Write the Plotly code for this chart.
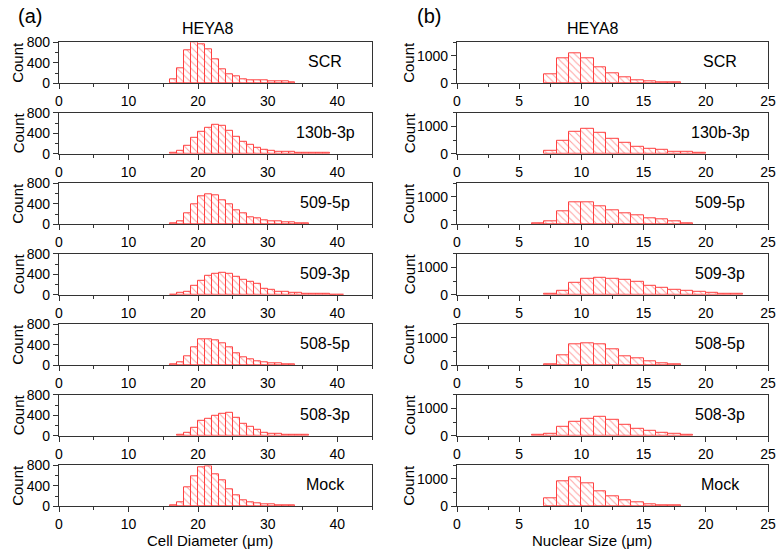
import plotly.graph_objects as go

W, H = 778, 554

samples = ["SCR", "130b-3p", "509-5p", "509-3p", "508-5p", "508-3p", "Mock"]

# Cell diameter histograms (bin width 1 um), first bin start per sample
cell_start = [16, 16, 16, 16, 16, 17, 16]
cell_scr = [78, 300, 636, 792, 766, 662, 468, 280, 182, 130, 78, 58, 65, 58, 39, 32, 32, 20]
cell_130b3p = [13, 53, 160, 313, 433, 513, 560, 547, 440, 333, 233, 180, 113, 80, 67, 47, 40, 33, 27, 27, 20, 20, 13]
cell_5095p = [13, 66, 210, 387, 538, 590, 564, 472, 400, 275, 210, 144, 111, 79, 66, 52, 39, 39, 26, 20]
cell_5093p = [7, 33, 58, 182, 280, 364, 409, 435, 409, 357, 299, 260, 214, 123, 97, 65, 52, 39, 32, 19, 19, 13, 13, 7, 7]
cell_5085p = [19, 58, 182, 357, 513, 513, 494, 429, 357, 227, 162, 117, 84, 65, 39, 32, 19, 13]
cell_5083p = [19, 51, 147, 288, 340, 391, 429, 455, 352, 243, 173, 109, 64, 45, 32, 19, 19, 13, 13]
cell_mock = [13, 79, 364, 583, 762, 781, 629, 517, 331, 219, 119, 86, 60, 46, 33, 26, 20, 13]
cell_counts = [cell_scr, cell_130b3p, cell_5095p, cell_5093p, cell_5085p, cell_5083p, cell_mock]

# Nuclear size histograms (bin width 1 um)
nuc_start = [7, 7, 6, 7, 7, 6, 7]
nuc_scr = [321, 914, 1099, 914, 568, 383, 210, 123, 74, 49, 25]
nuc_130b3p = [120, 482, 807, 904, 759, 566, 386, 253, 181, 133, 84, 60, 36]
nuc_5095p = [24, 118, 471, 812, 812, 671, 529, 400, 318, 212, 165, 106, 47]
nuc_5093p = [35, 129, 424, 600, 624, 600, 541, 494, 329, 247, 200, 129, 94, 59, 35, 24]
nuc_5085p = [49, 370, 765, 815, 753, 568, 346, 247, 136, 74, 25]
nuc_5083p = [37, 61, 329, 500, 610, 683, 573, 390, 268, 195, 110, 73, 49]
nuc_mock = [300, 920, 1050, 830, 560, 380, 220, 130, 80, 50, 25]
nuc_counts = [nuc_scr, nuc_130b3p, nuc_5095p, nuc_5093p, nuc_5085p, nuc_5083p, nuc_mock]

cell_xticks = [0, 10, 20, 30, 40]
cell_yticks = [0, 400, 800]
nuc_xticks = [0, 5, 10, 15, 20, 25]
nuc_yticks = [0, 1000]

FONT = "Liberation Sans, Arial, sans-serif"
RED = "#ff4040"
AX = "#333333"

fig = go.Figure()


def xp(px):
    return px / W


def yp(py):
    return 1 - py / H


panel_top0 = 42.3
panel_step = 70.5
panel_h = 41.0
left_x = (59, 372)
right_x = (457, 768)

annotations = []
layout_axes = {}
n = 0
for col in range(2):
    for k in range(7):
        n += 1
        xa = "x" if n == 1 else f"x{n}"
        ya = "y" if n == 1 else f"y{n}"
        xkey = "xaxis" if n == 1 else f"xaxis{n}"
        ykey = "yaxis" if n == 1 else f"yaxis{n}"
        top = panel_top0 + panel_step * k
        bot = top + panel_h
        if col == 0:
            start, counts = cell_start[k], cell_counts[k]
            xr, yr = [0, 45], [0, 800]
            xt, yt = cell_xticks, cell_yticks
            xminor, yminor = 5, 200
            xpx = left_x
        else:
            start, counts = nuc_start[k], nuc_counts[k]
            xr, yr = [0, 25], [0, 1500]
            xt, yt = nuc_xticks, nuc_yticks
            xminor, yminor = 2.5, 500
            xpx = right_x
        centers = [start + i + 0.5 for i in range(len(counts))]
        fig.add_trace(go.Bar(
            x=centers, y=counts, width=1, xaxis=xa, yaxis=ya,
            marker=dict(color="white",
                        line=dict(color=RED, width=1),
                        pattern=dict(shape="\\", fgcolor=RED, bgcolor="white",
                                     size=5, solidity=0.2)),
            showlegend=False, hoverinfo="x+y"))
        layout_axes[xkey] = dict(
            domain=[xp(xpx[0]), xp(xpx[1])], anchor=ya, range=xr,
            tickvals=xt, ticks="outside", ticklen=5, tickwidth=1, tickcolor=AX,
            minor=dict(dtick=xminor, tick0=0, ticks="outside", ticklen=3, tickcolor=AX),
            showline=True, linecolor=AX, linewidth=1.2, mirror=True,
            showgrid=False, zeroline=False, automargin=False,
            tickfont=dict(size=14, color="black", family=FONT))
        layout_axes[ykey] = dict(
            domain=[yp(bot), yp(top)], anchor=xa, range=yr,
            tickvals=yt, ticks="outside", ticklen=5, tickwidth=1, tickcolor=AX,
            minor=dict(dtick=yminor, tick0=0, ticks="outside", ticklen=3, tickcolor=AX),
            showline=True, linecolor=AX, linewidth=1.2, mirror=True,
            showgrid=False, zeroline=False, automargin=False,
            tickfont=dict(size=14, color="black", family=FONT))
        mid = (top + bot) / 2
        # sample label
        annotations.append(dict(
            x=xp(xpx[1] - 47 if col == 0 else xpx[1] - 48), y=yp(mid - 1),
            xref="paper", yref="paper", text=samples[k], showarrow=False,
            xanchor="center", yanchor="middle",
            font=dict(size=16, color="black", family=FONT)))
        # Count label
        annotations.append(dict(
            x=xp(18 if col == 0 else 409), y=yp(mid), xref="paper", yref="paper",
            text="Count", textangle=-90, showarrow=False,
            xanchor="center", yanchor="middle",
            font=dict(size=15, color="black", family=FONT)))

# titles and panel letters
for txt, x, y, size in [("HEYA8", 207, 29, 16), ("HEYA8", 592, 29, 16),
                        ("(a)", 30, 16, 20), ("(b)", 429, 16, 20),
                        ("Cell Diameter (\u03bcm)", 210, 540, 15),
                        ("Nuclear Size (\u03bcm)", 592, 540, 15)]:
    annotations.append(dict(x=xp(x), y=yp(y), xref="paper", yref="paper",
                            text=txt, showarrow=False, xanchor="center",
                            yanchor="middle",
                            font=dict(size=size, color="black", family=FONT)))

fig.update_layout(
    width=W, height=H, margin=dict(l=0, r=0, t=0, b=0),
    paper_bgcolor="white", plot_bgcolor="white", hovermode=False,
    bargap=0, annotations=annotations, **layout_axes)

fig.write_html("out.html", config={"displayModeBar": False},
               post_script="document.body.style.margin='0px';"
                           "document.body.style.overflow='hidden';")
